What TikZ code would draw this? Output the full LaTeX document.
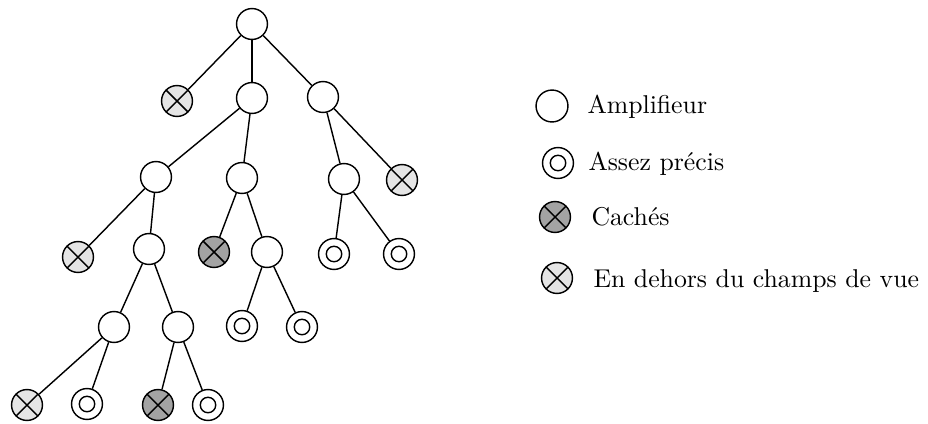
\documentclass[tikz,border=0pt]{standalone}
\definecolor{ltgray}{RGB}{229,229,229}
\definecolor{dkgray}{RGB}{163,163,163}
\begin{document}
\begin{tikzpicture}[x=0.3883pt,y=-0.3883pt,
  every node/.style={inner sep=0pt},
  nd/.style={circle,draw,line width=0.55pt,minimum size=12pt,fill=white},
  amp/.style={nd},
  prec/.style={nd,path picture={\draw[line width=0.55pt] (path picture bounding box.center) circle (3pt);}},
  crossed/.style={nd,path picture={\draw[line width=0.55pt] (path picture bounding box.north west)--(path picture bounding box.south east) (path picture bounding box.north east)--(path picture bounding box.south west);}},
  hid/.style={crossed,fill=dkgray},
  outview/.style={crossed,fill=ltgray},
  link/.style={line width=0.55pt},
  lbl/.style={anchor=base west,font=\normalsize}
]
\useasboundingbox (0,0) rectangle (928,423);
% tree nodes
\node[amp] (root) at (252,24) {};
\node[outview] (A) at (177,101) {};
\node[amp] (B) at (252,98) {};
\node[amp] (C) at (323,97) {};
\node[amp] (D) at (156,177) {};
\node[amp] (E) at (242,178) {};
\node[amp] (F) at (344,179) {};
\node[outview] (G) at (402,180) {};
\node[outview] (H) at (78,257) {};
\node[amp] (I) at (149,249) {};
\node[hid] (J) at (214,252) {};
\node[amp] (K) at (267,252) {};
\node[prec] (T) at (334,254) {};
\node[prec] (U) at (399,254) {};
\node[amp] (L) at (114,327) {};
\node[amp] (M) at (178,327) {};
\node[prec] (N) at (242,326) {};
\node[prec] (O) at (302,327) {};
\node[outview] (P) at (27,405) {};
\node[prec] (Q) at (87,404) {};
\node[hid] (R) at (158,405) {};
\node[prec] (S) at (208,405) {};
% edges
\draw[link] (root) -- (A);
\draw[link] (root) -- (B);
\draw[link] (root) -- (C);
\draw[link] (B) -- (D);
\draw[link] (B) -- (E);
\draw[link] (C) -- (F);
\draw[link] (C) -- (G);
\draw[link] (D) -- (H);
\draw[link] (D) -- (I);
\draw[link] (E) -- (J);
\draw[link] (E) -- (K);
\draw[link] (F) -- (T);
\draw[link] (F) -- (U);
\draw[link] (I) -- (L);
\draw[link] (I) -- (M);
\draw[link] (K) -- (N);
\draw[link] (K) -- (O);
\draw[link] (L) -- (P);
\draw[link] (L) -- (Q);
\draw[link] (M) -- (R);
\draw[link] (M) -- (S);
% legend
\node[amp,minimum size=12.4pt] (l1) at (552,106) {};
\node[prec] (l2) at (558,163) {};
\node[hid] (l3) at (555,217) {};
\node[outview] (l4) at (557,278) {};
\node[lbl] (t1) at (587,113) {Amplifieur};
\node[lbl] (t2) at (588,170) {Assez précis};
\node[lbl] (t3) at (591,225) {Cachés};
\node[lbl] (t4) at (593,287) {En dehors du champs de vue};
\end{tikzpicture}
\end{document}
